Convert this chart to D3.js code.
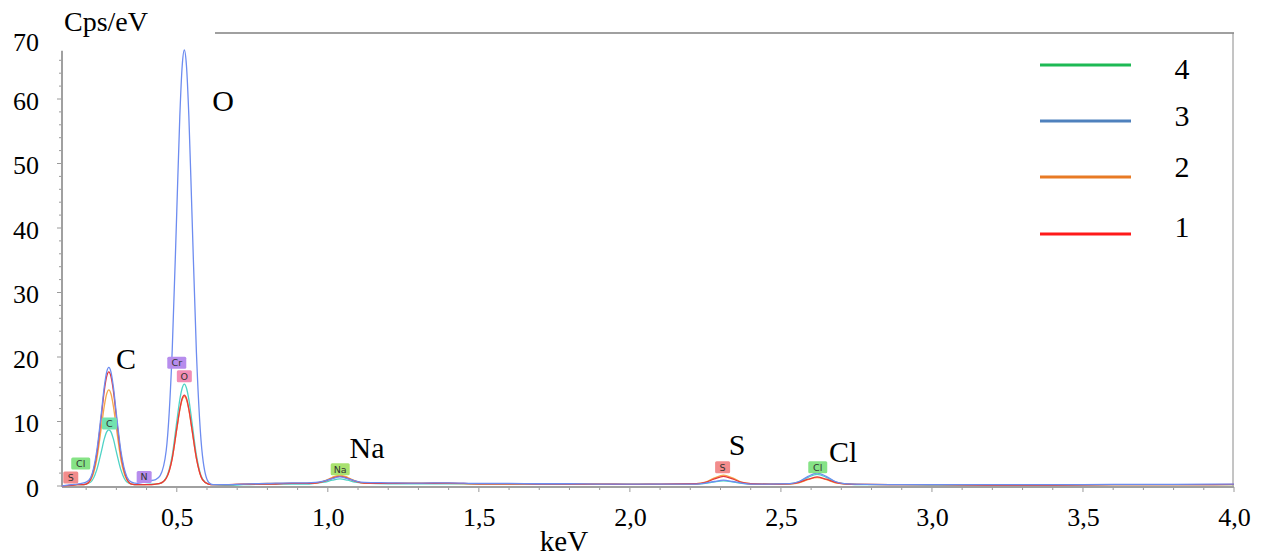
<!DOCTYPE html>
<html><head><meta charset="utf-8">
<script src="https://cdn.jsdelivr.net/npm/d3@7"></script>
<style>
html,body{margin:0;padding:0;background:#fff;}
svg{display:block;}
</style></head>
<body>
<svg id="chart" width="1263" height="558"></svg>
<script>
// ---------------- DATA ----------------
const energies = [0.12,0.15,0.17,0.185,
 0.200,0.215,0.235,0.250,0.260,0.268,0.275,0.282,0.290,0.300,0.315,0.335,0.350,
 0.37,0.39,0.41,0.43,
 0.445,0.465,0.485,0.500,0.510,0.518,0.525,0.532,0.540,0.550,0.565,0.585,0.605,0.62,
 0.66,0.72,0.80,0.88,0.93,
 0.96,0.99,1.015,1.04,1.065,1.09,1.12,
 1.2,1.3,1.4,1.5,1.6,1.7,1.8,1.9,2.0,2.1,
 2.22,2.25,2.28,2.31,2.34,2.37,2.40,
 2.46,
 2.53,2.56,2.59,2.62,2.65,2.68,2.71,
 2.78,2.9,3.0,3.2,3.4,3.6,3.8,4.0];

const series1 = [0.0,0.1,0.2,0.2,
 0.3,1.1,4.9,10.7,14.8,17.0,17.7,17.0,14.8,10.7,4.9,1.1,0.3,
 0.2,0.2,0.2,0.3,
 0.4,1.2,4.3,8.9,11.9,13.6,14.1,13.6,11.9,8.9,4.3,1.0,0.3,0.2,
 0.2,0.3,0.3,0.4,0.4,
 0.45,0.75,1.2,1.5,1.2,0.75,0.45,
 0.4,0.4,0.45,0.35,0.35,0.3,0.3,0.3,0.25,0.3,
 0.35,0.55,1.1,1.5,1.1,0.55,0.35,
 0.3,
 0.34,0.55,1.05,1.4,1.05,0.55,0.34,
 0.25,0.2,0.2,0.15,0.15,0.2,0.2,0.25];

const series2 = [0.0,0.1,0.2,0.2,
 0.3,0.9,4.1,9.0,12.4,14.3,14.9,14.3,12.4,9.0,4.1,0.9,0.3,
 0.2,0.2,0.2,0.3,
 0.4,1.2,4.3,8.8,11.8,13.4,13.9,13.4,11.8,8.8,4.3,1.0,0.3,0.2,
 0.2,0.3,0.4,0.4,0.4,
 0.45,0.8,1.35,1.7,1.35,0.8,0.45,
 0.4,0.45,0.4,0.35,0.35,0.35,0.3,0.3,0.3,0.25,
 0.35,0.6,1.25,1.7,1.25,0.6,0.35,
 0.3,
 0.34,0.5,1.0,1.3,1.0,0.5,0.34,
 0.25,0.2,0.2,0.15,0.15,0.2,0.2,0.2];

const series3 = [0.0,0.2,0.3,0.4,
 0.6,1.3,5.4,11.2,15.4,17.7,18.4,17.7,15.4,11.2,5.4,1.4,0.6,
 0.4,0.6,0.8,1.0,
 1.6,5.5,21.2,42.6,57.3,65.2,67.6,65.2,57.3,42.6,20.7,4.7,0.6,0.2,
 0.2,0.3,0.4,0.5,0.5,
 0.55,0.8,1.15,1.4,1.15,0.8,0.55,
 0.5,0.45,0.5,0.4,0.4,0.35,0.35,0.3,0.3,0.3,
 0.3,0.45,0.7,0.9,0.7,0.45,0.3,
 0.3,
 0.36,0.7,1.5,2.0,1.5,0.7,0.36,
 0.25,0.2,0.2,0.2,0.2,0.25,0.25,0.3];

const series4 = [0.0,0.1,0.2,0.2,
 0.3,0.6,2.5,5.3,7.3,8.4,8.7,8.4,7.3,5.3,2.5,0.6,0.3,
 0.2,0.2,0.3,0.3,
 0.4,1.3,4.8,10.0,13.4,15.2,15.8,15.2,13.4,10.0,4.8,1.1,0.3,0.2,
 0.1,0.2,0.3,0.3,0.3,
 0.45,0.6,0.9,1.1,0.9,0.6,0.45,
 0.35,0.35,0.35,0.3,0.3,0.3,0.25,0.25,0.25,0.25,
 0.3,0.4,0.65,0.8,0.65,0.4,0.3,
 0.3,
 0.35,0.65,1.35,1.8,1.35,0.65,0.35,
 0.2,0.2,0.15,0.15,0.15,0.2,0.2,0.2];

const seriesNames = ["1","2","3","4"];
const yTickValues = [0,10,20,30,40,50,60,70];
const xTickValues = [0.5,1.0,1.5,2.0,2.5,3.0,3.5,4.0];
const xTickLabels = ["0,5","1,0","1,5","2,0","2,5","3,0","3,5","4,0"];

// element marker tags (software labels)
const tagLabels   = ["S","Cl","C","N","Cr","O","Na","S","Cl"];
const tagEnergies = [0.149,0.182,0.277,0.392,0.500,0.525,1.041,2.307,2.622];
const tagValues   = [1.3,3.5,9.7,1.4,19.1,17.0,2.6,2.9,2.9];
const tagKinds    = ["S","Cl","C","N","Cr","O","Na","S","Cl"];

// large element annotations
const annLabels   = ["O","C","Na","S","Cl"];
const annEnergies = [0.653,0.332,1.130,2.355,2.706];
const annValues   = [59.8,19.8,5.9,6.4,5.3];

// ---------------- STYLE ----------------
const SERIF = "'Liberation Serif','Times New Roman',serif";
const plotColors   = {"1":"#e8373a","2":"#f4a84a","3":"#6d8cf0","4":"#4fd3c6"};
const legendColors = {"1":"#ff1a1a","2":"#e87a24","3":"#4f81bd","4":"#1db954"};
const tagColors = {S:"#f28c8c",Cl:"#86e386",C:"#72e3b0",N:"#b78ded",Cr:"#b78ded",O:"#f28db5",Na:"#a9e26f"};

const svg = d3.select("#chart");
const x = d3.scaleLinear().domain([0.12,4.0]).range([62,1234]);
const y = d3.scaleLinear().domain([0,70]).range([486,34.5]);
const axisGray = "#a0a0a0";

function serifText(sel, size){
  return sel.style("font-family",SERIF).style("font-size",size+"px").style("fill","#000");
}

// frame top & right
svg.append("line").attr("x1",215).attr("x2",1234).attr("y1",33).attr("y2",33)
  .attr("stroke",axisGray).attr("stroke-width",2);
svg.append("line").attr("x1",1233).attr("x2",1233).attr("y1",33).attr("y2",487)
  .attr("stroke","#8a8a8a").attr("stroke-width",1);

// minor ticks
const yMinor = d3.range(0,68,2);
svg.append("g").selectAll("line").data(yMinor).join("line")
  .attr("x1",d=> d%10===0 ? 57 : 59).attr("x2",62)
  .attr("y1",d=>y(d)).attr("y2",d=>y(d))
  .attr("stroke","#9a9a9a").attr("stroke-width",1);
const xMinor = d3.range(2,41).map(i=>i/10);
svg.append("g").selectAll("line").data(xMinor).join("line")
  .attr("x1",d=>x(d)).attr("x2",d=>x(d))
  .attr("y1",487).attr("y2",d=> Math.abs(d*2-Math.round(d*2))<1e-6 ? 492 : 490)
  .attr("stroke","#9a9a9a").attr("stroke-width",1);

// y axis
const yAxis = d3.axisLeft(y).tickValues(yTickValues).tickSize(0).tickPadding(23)
  .tickFormat(d=>String(d));
const gy = svg.append("g").attr("transform","translate(62,0)").call(yAxis);
gy.select(".domain").remove();
serifText(gy.selectAll("text"),26).attr("dy","0.4em");
gy.selectAll(".tick").filter(d=>d===70).select("text").attr("dy","0.62em");
svg.append("line").attr("x1",62).attr("x2",62).attr("y1",y(67.5)).attr("y2",487)
  .attr("stroke",axisGray).attr("stroke-width",2);

// x axis
const xAxis = d3.axisBottom(x).tickValues(xTickValues).tickSize(0).tickPadding(21)
  .tickFormat((d,i)=>xTickLabels[i]);
const gx = svg.append("g").attr("transform","translate(0,487)").call(xAxis);
gx.select(".domain").remove();
serifText(gx.selectAll("text"),26);
svg.append("line").attr("x1",62).attr("x2",1234).attr("y1",487).attr("y2",487)
  .attr("stroke",axisGray).attr("stroke-width",2);

// spectra
const allSeries = {"1":series1,"2":series2,"3":series3,"4":series4};
const line = d3.line().x((d,i)=>x(energies[i])).y(d=>y(d)).curve(d3.curveMonotoneX);
["4","2","1","3"].forEach(k=>{
  svg.append("path").datum(allSeries[k]).attr("d",line)
    .attr("fill","none").attr("stroke",plotColors[k]).attr("stroke-width",1.3);
});

// element tags
const tags = svg.append("g");
tagLabels.forEach((lab,i)=>{
  const cx = x(tagEnergies[i]), cy = y(tagValues[i]);
  const w = lab.length>1 ? 19 : 15, h = 12;
  tags.append("rect").attr("x",cx-w/2).attr("y",cy-h/2).attr("width",w).attr("height",h)
    .attr("rx",1.5).attr("fill",tagColors[tagKinds[i]]);
  tags.append("text").attr("x",cx).attr("y",cy).attr("dy","0.36em").attr("text-anchor","middle")
    .style("font-family","'DejaVu Sans',sans-serif").style("font-size","9.5px").style("fill","#333")
    .text(lab);
});

// annotations
annLabels.forEach((lab,i)=>{
  serifText(svg.append("text").attr("x",x(annEnergies[i])).attr("y",y(annValues[i])).attr("dy","0.35em")
    .attr("text-anchor","middle"),30).text(lab);
});

// axis titles
serifText(svg.append("text").attr("x",64).attr("y",31),28).text("Cps/eV");
serifText(svg.append("text").attr("x",564).attr("y",551).attr("text-anchor","middle"),29).text("keV");

// legend
const legY = [65,121,177,234];
const legTextY = [79,126,177,237];
["4","3","2","1"].forEach((k,i)=>{
  svg.append("line").attr("x1",1040).attr("x2",1131).attr("y1",legY[i]).attr("y2",legY[i])
    .attr("stroke",legendColors[k]).attr("stroke-width",3);
  serifText(svg.append("text").attr("x",1182).attr("y",legTextY[i]).attr("text-anchor","middle"),30).text(k);
});
</script>
</body></html>
